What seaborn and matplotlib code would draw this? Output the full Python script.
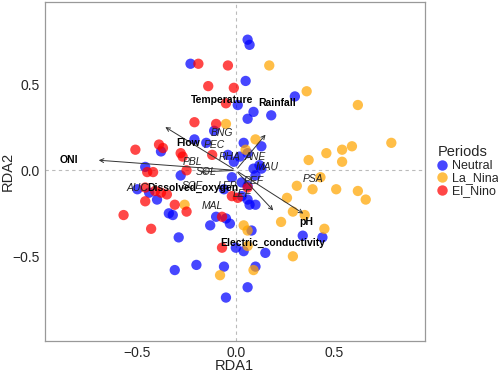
import numpy as np
import pandas as pd
import matplotlib
matplotlib.use("Agg")
import matplotlib.pyplot as plt
import seaborn as sns

# site scores (RDA1, RDA2) by period
neutral_x = [-0.23, 0.06, 0.07, 0.05, 0.30, 0.01, 0.09, 0.06, 0.18, -0.11, -0.21, -0.15,
             -0.38, -0.46, -0.50, -0.44, -0.40, -0.34, -0.32, -0.29, -0.10, -0.05, -0.03,
             -0.13, 0.08, 0.00, 0.04, 0.15, -0.31, -0.20, -0.06, 0.10, 0.06, -0.05, 0.34,
             0.44, 0.04, 0.13, 0.06, 0.02, -0.01, 0.12, 0.13, 0.09, 0.10, -0.02, 0.03, 0.06,
             -0.06, 0.03, 0.06, 0.07, 0.10, -0.28, -0.04]
neutral_y = [0.62, 0.76, 0.73, 0.52, 0.43, 0.38, 0.34, 0.30, 0.32, 0.23, 0.18, 0.16,
             0.11, 0.02, -0.11, -0.13, -0.17, -0.25, -0.26, -0.39, -0.27, -0.28, -0.31,
             -0.32, -0.35, -0.45, -0.47, -0.48, -0.58, -0.55, -0.56, -0.56, -0.68, -0.74, -0.38,
             -0.39, 0.16, 0.14, 0.10, 0.08, 0.05, 0.03, 0.01, 0.01, -0.03, -0.04, -0.07, -0.09,
             -0.11, -0.15, -0.17, -0.20, -0.20, -0.03, 0.09]

lanina_x = [0.17, 0.36, 0.62, -0.05, 0.10, 0.05, 0.79, 0.59, 0.54, 0.46, 0.37, 0.54,
            0.43, 0.31, 0.39, 0.51, 0.62, 0.66, 0.26, 0.29, 0.35, 0.23, 0.45, 0.29,
            -0.26, 0.04, 0.06, 0.06, -0.08, 0.09]
lanina_y = [0.61, 0.46, 0.38, 0.27, 0.18, 0.12, 0.16, 0.14, 0.12, 0.10, 0.06, 0.05,
            -0.04, -0.09, -0.11, -0.11, -0.12, -0.17, -0.16, -0.24, -0.26, -0.30, -0.34, -0.50,
            -0.20, -0.32, -0.35, -0.44, -0.61, -0.58]

elnino_x = [-0.19, -0.04, -0.14, -0.01, -0.05, -0.21, -0.10, -0.51, -0.39, -0.37, -0.28,
            -0.27, -0.12, -0.45, -0.42, -0.25, -0.46, -0.41, -0.38, -0.35, -0.46, -0.31,
            -0.25, -0.57, -0.43, -0.07, -0.07, 0.06, 0.01, -0.02]
elnino_y = [0.62, 0.61, 0.49, 0.48, 0.39, 0.28, 0.27, 0.12, 0.15, 0.13, 0.10,
            0.08, 0.09, -0.01, -0.01, 0.00, -0.10, -0.12, -0.13, -0.14, -0.18, -0.20,
            -0.24, -0.26, -0.34, -0.27, -0.45, -0.10, -0.16, -0.15]

# environmental vectors
env_names = ["Flow", "Rainfall", "ONI", "Dissolved_oxygen", "pH", "Electric_conductivity"]
env_x = [-0.37, 0.16, -0.71, -0.19, 0.355, 0.20]
env_y = [0.26, 0.22, 0.06, -0.01, -0.26, -0.245]

env_labels = ["Temperature", "Rainfall", "Flow", "ONI", "Dissolved_oxygen", "pH",
              "Electric_conductivity"]
env_lab_x = [-0.07, 0.21, -0.24, -0.85, -0.22, 0.36, 0.19]
env_lab_y = [0.41, 0.39, 0.16, 0.06, -0.10, -0.30, -0.42]

# species labels
species = ["BNG", "PEC", "RHA", "ANE", "MAU", "SOL", "PBL", "PSA", "PEF", "LEF",
           "MAL", "AUC", "SCE", "LEP"]
sp_x = [-0.07, -0.11, -0.03, 0.10, 0.16, -0.15, -0.22, 0.39, 0.09, 0.03,
        -0.12, -0.50, -0.22, -0.04]
sp_y = [0.22, 0.15, 0.08, 0.08, 0.02, -0.01, 0.05, -0.05, -0.06, -0.14,
        -0.21, -0.10, -0.09, -0.09]

periods = ["Neutral", "La_Nina", "El_Nino"]
colors = {"Neutral": "#0000FF", "La_Nina": "#FFA500", "El_Nino": "#FF0000"}

df = pd.DataFrame({
    "RDA1": neutral_x + lanina_x + elnino_x,
    "RDA2": neutral_y + lanina_y + elnino_y,
    "Periods": ["Neutral"] * len(neutral_x) + ["La_Nina"] * len(lanina_x)
               + ["El_Nino"] * len(elnino_x),
})

sns.set_style("white")
plt.rcParams["font.family"] = ["Liberation Sans", "DejaVu Sans"]

fig = plt.figure(figsize=(4.98, 3.73), dpi=100)
ax = fig.add_axes([0.09, 0.087, 0.763, 0.908])

ax.axhline(0, color="#BBBBBB", lw=0.8, ls=(0, (3, 3)), zorder=0)
ax.axvline(0, color="#BBBBBB", lw=0.8, ls=(0, (3, 3)), zorder=0)

sns.scatterplot(data=df, x="RDA1", y="RDA2", hue="Periods", hue_order=periods,
                palette=colors, s=55, alpha=0.72, edgecolor="none", ax=ax, zorder=2)

for name, x, y in zip(env_names, env_x, env_y):
    ax.annotate("", xy=(x, y), xytext=(0, 0),
                arrowprops=dict(arrowstyle="->", color="#333333", lw=0.7,
                                mutation_scale=7), zorder=3)

for t, x, y in zip(species, sp_x, sp_y):
    ax.text(x, y, t, fontsize=7.5, style="italic", color="#222222",
            ha="center", va="center", zorder=4)

for t, x, y in zip(env_labels, env_lab_x, env_lab_y):
    ax.text(x, y, t, fontsize=7.5, fontweight="bold", color="black",
            ha="center", va="center", zorder=5)

ax.set_xlim(-0.97, 0.96)
ax.set_ylim(-0.99, 0.98)
ax.set_xticks([-0.5, 0.0, 0.5])
ax.set_yticks([-0.5, 0.0, 0.5])
ax.set_xlabel("RDA1", fontsize=10.5, labelpad=-1)
ax.set_ylabel("RDA2", fontsize=10.5, labelpad=-2)
ax.tick_params(labelsize=10, length=2, color="#888888", pad=2)
for sp in ax.spines.values():
    sp.set_color("#999999")
    sp.set_linewidth(0.9)

leg = ax.legend(title="Periods", loc="center left", bbox_to_anchor=(1.0, 0.5),
                frameon=False, fontsize=9, title_fontsize=10.5, handlelength=0.8,
                handletextpad=0.4, labelspacing=0.05, borderaxespad=0.6)
leg._legend_box.align = "left"
for h in leg.legend_handles:
    h.set_alpha(0.72)
    h.set_markersize(7.5)

fig.savefig("out.png", dpi=100)
